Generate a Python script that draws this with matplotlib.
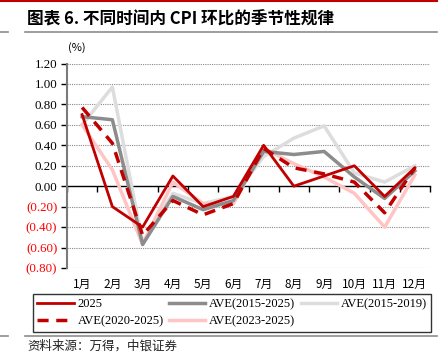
import matplotlib
matplotlib.use("Agg")
import matplotlib.pyplot as plt
from matplotlib.lines import Line2D
import matplotlib.transforms as mtransforms

months = ["1月", "2月", "3月", "4月", "5月", "6月", "7月", "8月", "9月", "10月", "11月", "12月"]
y2025 = [0.70, -0.20, -0.40, 0.10, -0.20, -0.10, 0.40, 0.00, 0.10, 0.20, -0.10, 0.18]
ave_2015_2025 = [0.68, 0.65, -0.57, -0.10, -0.23, -0.14, 0.34, 0.31, 0.34, 0.09, -0.12, 0.15]
ave_2015_2019 = [0.60, 0.97, -0.55, -0.07, -0.17, -0.10, 0.29, 0.47, 0.59, 0.13, 0.04, 0.20]
ave_2020_2025 = [0.77, 0.42, -0.48, -0.14, -0.28, -0.17, 0.37, 0.18, 0.12, 0.04, -0.26, 0.18]
ave_2023_2025 = [0.60, 0.16, -0.57, 0.04, -0.17, -0.17, 0.37, 0.22, 0.09, -0.07, -0.40, 0.11]
yticks = [1.2, 1.0, 0.8, 0.6, 0.4, 0.2, 0.0, -0.2, -0.4, -0.6, -0.8]

serif = ["Liberation Serif", "DejaVu Serif"]
cjk = ["Noto Sans CJK SC", "DejaVu Sans"]

W, H = 447, 356
fig = plt.figure(figsize=(W / 100, H / 100), dpi=100)
ax = fig.add_axes([67 / W, 1 - 268 / H, (430 - 67) / W, (268 - 63.5) / H])

x = list(range(len(months)))
# grid
for t in yticks:
    if t != 0:
        ax.axhline(t, color="#8a8a8a", lw=0.8, ls=(0, (1, 1)), zorder=1)

ax.plot(x, ave_2015_2019, color="#DDDDDD", lw=2.5, zorder=3, label="AVE(2015-2019)")
ax.plot(x, ave_2023_2025, color="#FFC4C4", lw=2.5, zorder=4, label="AVE(2023-2025)")
ax.plot(x, ave_2015_2025, color="#8C8C8C", lw=2.5, zorder=5, label="AVE(2015-2025)")
ax.plot(x, ave_2020_2025, color="#C00000", lw=2.5, dashes=(3.2, 2.2), zorder=6, label="AVE(2020-2025)")
ax.plot(x, y2025, color="#C00000", lw=2.0, zorder=7, label="2025")

ax.set_xlim(-0.5, 11.5)
ax.set_ylim(-0.8, 1.2)

for s in ["top", "right"]:
    ax.spines[s].set_visible(False)
ax.spines["left"].set_color("#7a7a7a")
ax.spines["left"].set_linewidth(1.5)
ax.spines["bottom"].set_position(("data", 0))
ax.spines["bottom"].set_color("black")
ax.spines["bottom"].set_linewidth(1.0)
ax.spines["bottom"].set_zorder(2)

ax.set_xticks([i - 0.5 for i in range(13)])
ax.set_xticklabels([])
ax.tick_params(axis="x", direction="out", length=4, width=1, color="black")

ax.set_yticks(yticks)
labels = []
for t in yticks:
    if t < 0:
        labels.append("({:.2f})".format(-t))
    else:
        labels.append("{:.2f}".format(t))
ax.set_yticklabels(labels, fontfamily=serif, fontsize=9.3)
for lab, t in zip(ax.get_yticklabels(), yticks):
    lab.set_color("#FF0000" if t < 0 else "black")
ax.tick_params(axis="y", direction="out", length=4, width=1, color="black", pad=3)

trans = mtransforms.blended_transform_factory(ax.transData, fig.transFigure)
for i, m in enumerate(months):
    ax.text(i, 1 - 284 / H, m, transform=trans, ha="center", va="center",
            fontsize=8.5, family=cjk)

fig.text(77 / W, 1 - 48 / H, "(%)", ha="center", va="center", fontsize=8, family=cjk)

# title and decorations
fig.text(27 / W, 1 - 20 / H, "图表 6. 不同时间内 CPI 环比的季节性规律", ha="left", va="center",
         fontsize=12, fontweight="bold", family=cjk)
fig.add_artist(Line2D([0, 437 / W], [1 - 0.8 / H, 1 - 0.8 / H], color="#C00000", lw=1.5,
                      transform=fig.transFigure))
for y in [32, 336]:
    fig.add_artist(Line2D([25 / W, 437 / W], [1 - y / H, 1 - y / H], color="#8c8c8c", lw=1.2,
                          transform=fig.transFigure))
    fig.add_artist(Line2D([0, 8 / W], [1 - y / H, 1 - y / H], color="#8c8c8c", lw=1.2,
                          transform=fig.transFigure))
fig.text(27 / W, 1 - 346 / H, "资料来源：万得，中银证券", ha="left", va="center",
         fontsize=9, style="italic", family=cjk, color="#222222")

handles, lbls = ax.get_legend_handles_labels()
order = ["2025", "AVE(2020-2025)", "AVE(2015-2025)", "AVE(2023-2025)", "AVE(2015-2019)"]
hmap = dict(zip(lbls, handles))
leg = fig.legend([hmap[o] for o in order], order, loc="upper left",
                 bbox_to_anchor=(33 / W, 1 - 331 / H, 398 / W, 37 / H), mode="expand",
                 ncol=3, prop={"family": serif, "size": 9}, frameon=True, fancybox=False,
                 edgecolor="black", handlelength=2.9, handletextpad=0.3,
                 labelspacing=0.4, borderpad=0.35, borderaxespad=0)
leg.get_frame().set_linewidth(1.0)

fig.savefig("out.png", dpi=100)
